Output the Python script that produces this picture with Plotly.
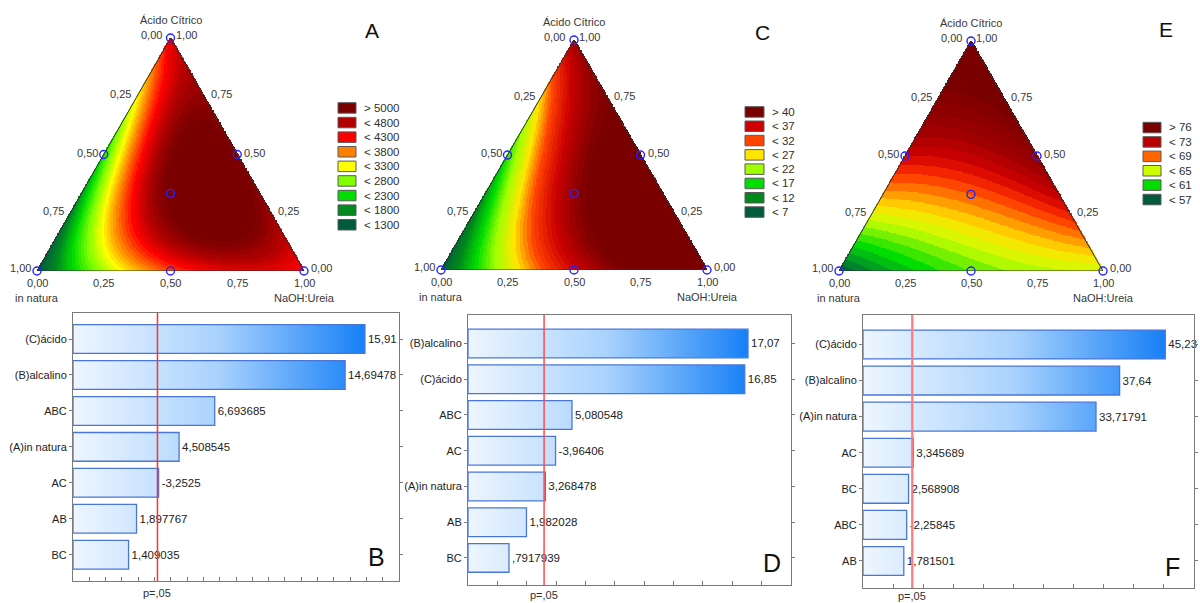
import numpy as np
import plotly.graph_objects as go

W, H = 1200, 603
FONT = "Liberation Sans, Arial, sans-serif"

# ---------------- mixture response surfaces (special cubic models) ----------------
# A = in natura, B = NaOH:Ureia (alcalino), C = Ácido Cítrico
# coefficient order: A, B, C, AB, AC, BC, ABC
coef_A = [1000, 4000, 4200, 5000, -1800, 3000, 33500]
coef_C = [5, 46, 38, 36, -24, 4, 204]
coef_E = [55, 63, 80, 8, 14, 14, -54]

# simplex-centroid design points (A, B, C)
design_A = [1, 0, 0, 0.5, 0.5, 0, 1 / 3]
design_B = [0, 1, 0, 0.5, 0, 0.5, 1 / 3]
design_C = [0, 0, 1, 0, 0.5, 0.5, 1 / 3]

tern_ticks = [0.0, 0.25, 0.5, 0.75, 1.0]

legend_text_A = ["> 5000", "< 4800", "< 4300", "< 3800", "< 3300", "< 2800", "< 2300", "< 1800", "< 1300"]
legend_text_C = ["> 40", "< 37", "< 32", "< 27", "< 22", "< 17", "< 12", "< 7"]
legend_text_E = ["> 76", "< 73", "< 69", "< 65", "< 61", "< 57"]

# ---------------- Pareto charts of standardized effects ----------------
terms_B = ["(C)ácido", "(B)alcalino", "ABC", "(A)in natura", "AC", "AB", "BC"]
effects_B = [15.91, 14.69478, 6.693685, 4.508545, -3.2525, 1.897767, 1.409035]
terms_D = ["(B)alcalino", "(C)ácido", "ABC", "AC", "(A)in natura", "AB", "BC"]
effects_D = [17.07, 16.85, 5.080548, -3.96406, 3.268478, 1.982028, 0.7917939]
terms_F = ["(C)ácido", "(B)alcalino", "(A)in natura", "AC", "BC", "ABC", "AB"]
effects_F = [45.23, 37.64, 33.71791, 3.345689, 2.568908, -2.25845, 1.781501]
t_crit = 3.182  # p = .05

# ---------------- styles ----------------
legend_col_A = ["#7a0000", "#b00000", "#ff0000", "#ff8000", "#ffff00", "#80ff00", "#00dd00", "#008a20", "#005a3c"]
legend_col_C = ["#7a0000", "#cc0000", "#ff4400", "#ffe600", "#a0ff00", "#00dd00", "#00881a", "#005a3c"]
legend_col_E = ["#7a0000", "#b80000", "#ff6600", "#ccff00", "#00dd00", "#005a3c"]

scale_A = ([1050, 1550, 2050, 2550, 3050, 3550, 4050, 4500, 4900],
           ["#005a3c", "#008a20", "#00dd00", "#80ff00", "#ffff00", "#ff8000", "#ff0000", "#b00000", "#7a0000"])
scale_C = ([4.5, 9.5, 14.5, 19.5, 24.5, 29.5, 35, 41],
           ["#005a3c", "#00881a", "#00dd00", "#a0ff00", "#ffe600", "#ff4400", "#cc0000", "#7a0000"])
scale_E = ([55, 57.5, 59.5, 63, 65, 67, 69, 71, 73.5, 77.5],
           ["#005a3c", "#00a020", "#00dd00", "#ccff00", "#ffe000", "#ff8800", "#ff3000", "#d00000", "#a00000", "#7a0000"])


def make_scale(vals, cols):
    lo, hi = vals[0], vals[-1]
    return [[(v - lo) / (hi - lo), c] for v, c in zip(vals, cols)], lo, hi


def model(c, a, b, cc):
    return (c[0] * a + c[1] * b + c[2] * cc + c[3] * a * b + c[4] * a * cc
            + c[5] * b * cc + c[6] * a * b * cc)


def fmt(v):
    """Effect value as printed on the Pareto chart (7 significant digits, decimal comma)."""
    s = "%.7g" % v
    if s.startswith("0."):
        s = s[1:]
    elif s.startswith("-0."):
        s = "-" + s[2:]
    return s.replace(".", ",")


def fmt_tick(v):
    return ("%.2f" % v).replace(".", ",")


def px(p):
    return p / W


def py(p):
    return 1 - p / H


fig = go.Figure()
layout = dict(width=W, height=H, margin=dict(l=0, r=0, t=0, b=0),
              paper_bgcolor="white", plot_bgcolor="white", showlegend=False,
              font=dict(family=FONT, size=11, color="#222"))
shapes, annotations = [], []

h = np.sqrt(3) / 2
gx = np.linspace(0, 1, 430)
gy = np.linspace(0, h, 373)
GX, GY = np.meshgrid(gx, gy)
Cg = GY / h
Bg = GX - Cg / 2
Ag = 1 - Bg - Cg
inside = (Ag >= -0.004) & (Bg >= -0.004) & (Cg >= -0.004)

ternaries = [
    # axis suffix, coefs, color scale, band step, legend, box (left, right, apex, base), legend geometry, letter
    ("", coef_A, scale_A, 100, legend_text_A, legend_col_A, (37, 304, 38, 271), (338, 356, 102.7, 14.6, 362), ("A", 372, 31)),
    ("2", coef_C, scale_C, 1, legend_text_C, legend_col_C, (441, 707, 40, 270), (745, 764, 106.7, 14.3, 770), ("C", 762, 33)),
    ("3", coef_E, scale_E, 1, legend_text_E, legend_col_E, (839, 1103, 41, 271), (1143, 1161, 122.3, 14.4, 1167), ("E", 1166, 29)),
]

tfont = dict(family=FONT, size=11, color="#383838")

for sfx, coef, scale, step, ltext, lcol, box, lg, letter in ternaries:
    xa, ya = "x" + sfx, "y" + sfx
    cs, zlo, zhi = make_scale(*scale)
    z = model(coef, Ag, Bg, Cg)
    z = np.floor(z / step) * step + step / 2
    z = np.where(inside, z, np.nan)
    fig.add_trace(go.Heatmap(x=gx, y=gy, z=z, colorscale=cs, zmin=zlo, zmax=zhi,
                             showscale=False, zsmooth=False, hoverinfo="skip",
                             xaxis=xa, yaxis=ya))
    # triangle outline
    fig.add_trace(go.Scatter(x=[0, 1, 0.5, 0], y=[0, 0, h, 0], mode="lines",
                             line=dict(color="#303030", width=1), hoverinfo="skip",
                             xaxis=xa, yaxis=ya))
    # design points
    dx = [b + c / 2 for b, c in zip(design_B, design_C)]
    dy = [h * c for c in design_C]
    fig.add_trace(go.Scatter(x=dx, y=dy, mode="markers", cliponaxis=False,
                             marker=dict(symbol="circle-open", size=8, color="#2424ff",
                                         line=dict(width=1.4)),
                             xaxis=xa, yaxis=ya))
    left, right, top, base = box
    layout["xaxis" + sfx] = dict(domain=[px(left), px(right)], range=[0, 1], visible=False,
                                 anchor=ya, fixedrange=True)
    layout["yaxis" + sfx] = dict(domain=[py(base), py(top)], range=[0, h], visible=False,
                                 anchor=xa, fixedrange=True)

    def ann(x, y, text, **kw):
        d = dict(x=x, y=y, xref=xa, yref=ya, text=text, showarrow=False, font=tfont)
        d.update(kw)
        annotations.append(d)

    # bottom axis: NaOH:Ureia fraction
    for t in tern_ticks:
        ann(t, 0, fmt_tick(t), yshift=-12, xanchor="center", yanchor="middle")
    # left axis: in natura fraction
    for t in tern_ticks:
        c = 1 - t
        xs = -7 if t == 0 else -4
        ann(c / 2, h * c, fmt_tick(t), xanchor="right", yanchor="middle", xshift=xs,
            yshift=3 if t in (0, 1) else 2)
    # right axis: Ácido Cítrico fraction
    for t in tern_ticks:
        xs = 3 if t == 1 else 5
        ann(1 - t / 2, h * t, fmt_tick(t), xanchor="left", yanchor="middle", xshift=xs,
            yshift=3 if t in (0, 1) else 2)
    ann(0.5, h, "Ácido Cítrico", yshift=18, xanchor="center", yanchor="middle")
    ann(0, 0, "in natura", yshift=-27, xanchor="center", yanchor="middle")
    ann(1, 0, "NaOH:Ureia", yshift=-27, xanchor="center", yanchor="middle")

    # contour legend
    bx0, bx1, by0, bstep, tx = lg
    for i, (t, c) in enumerate(zip(ltext, lcol)):
        y0 = by0 + i * bstep
        shapes.append(dict(type="rect", xref="paper", yref="paper", x0=px(bx0), x1=px(bx1),
                           y0=py(y0), y1=py(y0 + 10.5), fillcolor=c,
                           line=dict(color="#5a5a5a", width=1)))
        annotations.append(dict(x=px(tx), y=py(y0 + 5.2), xref="paper", yref="paper", text=t,
                                showarrow=False, xanchor="left", yanchor="middle",
                                font=dict(family=FONT, size=11.5, color="#303030")))
    lt, lx, ly = letter
    annotations.append(dict(x=px(lx), y=py(ly), xref="paper", yref="paper", text=lt, showarrow=False,
                            xanchor="center", yanchor="middle", font=dict(family=FONT, size=21, color="#111")))

# ---------------- Pareto panels ----------------
paretos = [
    ("4", "7", terms_B, effects_B, (73, 399, 313, 581), (-2, 18), 1, (-0.723, 6.73), ("B", 376, 557), 593,
     dict(color="#ff3030", width=1.5)),
    ("5", "8", terms_D, effects_D, (468, 791, 315, 585), (-2, 20), 2, (-0.797, 6.756), ("D", 772, 563), 595,
     dict(color="#ff4a4a", width=1.5)),
    ("6", "9", terms_F, effects_F, (863, 1194, 315, 588), (-5, 50), 5, (-0.817, 6.749), ("F", 1172, 567), 596,
     dict(color="#ff7a7a", width=2.2)),
]

bar_half = 0.4
for sfx, osfx, terms, effects, box, xr, dt, yr, letter, plab_y, redline in paretos:
    xa, ya = "x" + sfx, "y" + sfx
    oxa, oya = "x" + osfx, "y" + osfx
    mags = [abs(v) for v in effects]
    ypos = list(range(len(terms)))
    # gradient fill of the bars
    gxs, gys = [], []
    for m, yi in zip(mags, ypos):
        gxs += [xr[0], m, m, xr[0], xr[0], None]
        gys += [yi - bar_half, yi - bar_half, yi + bar_half, yi + bar_half, yi - bar_half, None]
    fig.add_trace(go.Scatter(x=gxs, y=gys, mode="lines", fill="toself", line=dict(width=0),
                             fillgradient=dict(type="horizontal", start=xr[0], stop=max(mags),
                                               colorscale=[[0, "#eef6ff"], [0.5, "#a9d2fd"], [1, "#1680f6"]]),
                             hoverinfo="skip", xaxis=xa, yaxis=ya))
    # bar outlines and value labels
    fig.add_trace(go.Bar(x=[m - xr[0] for m in mags], y=ypos, base=xr[0], orientation="h",
                         width=2 * bar_half, marker=dict(color="rgba(0,0,0,0)",
                                                         line=dict(color="#4a76da", width=1.3)),
                         text=[fmt(v) for v in effects], textposition="outside", cliponaxis=False,
                         constraintext="none", textfont=dict(family=FONT, size=11.5, color="#222"),
                         xaxis=oxa, yaxis=oya))
    # significance limit (p = .05)
    fig.add_trace(go.Scatter(x=[t_crit, t_crit], y=[yr[0], yr[1]], mode="lines", line=redline,
                             hoverinfo="skip", xaxis=oxa, yaxis=oya))
    left, right, top, bottom = box
    layout["xaxis" + sfx] = dict(domain=[px(left), px(right)], range=list(xr), anchor=ya,
                                 showline=True, linecolor="#7a7a7a", linewidth=1, mirror=True,
                                 ticks="inside", ticklen=4, tickcolor="#7a7a7a", dtick=dt, tick0=0,
                                 showticklabels=False, showgrid=False, zeroline=False, fixedrange=True)
    layout["yaxis" + sfx] = dict(domain=[py(bottom), py(top)], range=[yr[1], yr[0]], anchor=xa,
                                 showline=True, linecolor="#7a7a7a", linewidth=1, mirror="ticks",
                                 ticks="outside", ticklen=3, tickcolor="#7a7a7a",
                                 tickvals=ypos, ticktext=terms, showgrid=False, zeroline=False,
                                 tickfont=dict(family=FONT, size=11, color="#222"), fixedrange=True)
    layout["xaxis" + osfx] = dict(overlaying=xa, range=list(xr), visible=False, anchor=oya, fixedrange=True)
    layout["yaxis" + osfx] = dict(overlaying=ya, range=[yr[1], yr[0]], visible=False, anchor=oxa,
                                  fixedrange=True)
    annotations.append(dict(x=t_crit, y=py(plab_y), xref=xa, yref="paper", text="p=,05", showarrow=False,
                            xanchor="center", yanchor="middle",
                            font=dict(family=FONT, size=11, color="#303030")))
    lt, lx, ly = letter
    annotations.append(dict(x=px(lx), y=py(ly), xref="paper", yref="paper", text=lt, showarrow=False,
                            xanchor="center", yanchor="middle", font=dict(family=FONT, size=25, color="#111")))

layout["shapes"] = shapes
layout["annotations"] = annotations
fig.update_layout(**layout)
fig.write_html("out.html")
